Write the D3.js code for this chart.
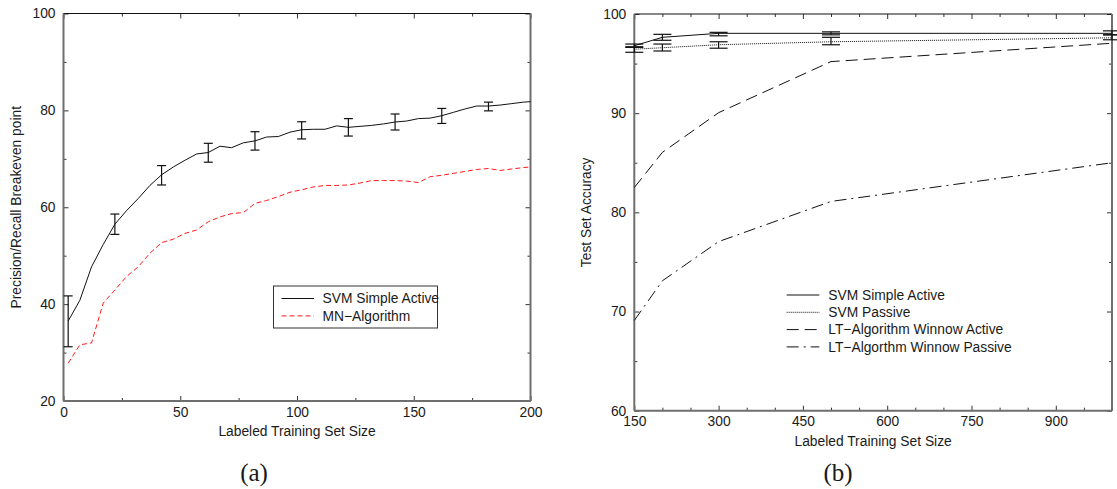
<!DOCTYPE html>
<html>
<head>
<meta charset="utf-8">
<script src="https://cdn.jsdelivr.net/npm/d3@7"></script>
<style>
  html, body { margin: 0; padding: 0; background: #fff; }
  svg { display: block; }
  text { font-family: "Liberation Sans", Arial, sans-serif; fill: #1a1a1a; }
</style>
</head>
<body>
<svg id="chart" width="1117" height="489"></svg>
<script>
// ---------- Panel (a) data ----------
const leftX = [2,7,12,17,22,27,32,37,42,47,52,57,62,67,72,77,82,87,92,97,102,107,112,117,122,127,132,137,142,147,152,157,162,167,172,177,182,187,192,197,200];
const svmSimpleActiveA = [36.5,40.8,47.7,52.3,56.5,59.3,61.8,64.5,66.7,68.3,69.7,71.0,71.3,72.6,72.3,73.3,73.7,74.5,74.6,75.5,76.0,76.1,76.1,76.8,76.5,76.7,76.9,77.2,77.6,77.8,78.3,78.4,78.9,79.6,80.3,80.9,80.9,81.1,81.4,81.7,81.8];
const mnAlgorithm = [27.8,31.6,32.0,40.2,42.9,45.7,47.7,50.5,52.7,53.4,54.6,55.3,57.0,58.0,58.7,58.9,60.8,61.4,62.2,63.1,63.6,64.2,64.5,64.5,64.6,65.0,65.5,65.5,65.5,65.4,65.1,66.3,66.6,67.0,67.4,67.8,68.0,67.6,67.9,68.2,68.3];
const errXA = [2,22,42,62,82,102,122,142,162,182];
const errLoA = [31.2,54.4,64.6,69.3,71.8,74.1,74.7,75.95,77.3,79.9];
const errHiA = [41.7,58.6,68.6,73.2,75.6,77.65,78.3,79.25,80.4,81.7];
const xTicksA = [0,50,100,150,200];
const xMinorA = [25,75,125,175];
const yTicksA = [20,40,60,80,100];
const yMinorA = [30,50,70,90];
const legendA = ["SVM Simple Active", "MN\u2212Algorithm"];

// ---------- Panel (b) data ----------
const rightX = [150,200,300,500,1000];
const svmSimpleActiveB = [96.8,97.65,98.05,98.05,98.05];
const svmPassiveB = [96.45,96.6,96.9,97.2,97.6];
const ltWinnowActive = [82.5,86.05,90.05,95.2,97.05];
const ltWinnowPassive = [69.1,73.1,77.05,81.1,85.0];
const activeErrLoB = [96.63,97.35,97.8,97.9,97.9];
const activeErrHiB = [96.97,97.95,98.15,98.2,98.3];
const passiveErrLoB = [96.14,96.27,96.55,96.9,97.4];
const passiveErrHiB = [96.7,96.97,97.2,97.65,97.9];
const xTicksB = [150,300,450,600,750,900];
const xMinorB = [200,250,350,400,500,550,650,700,800,850,950,1000];
const yTicksB = [60,70,80,90,100];
const yMinorB = [65,75,85,95];
const legendB = ["SVM Simple Active", "SVM Passive", "LT\u2212Algorithm Winnow Active", "LT\u2212Algorthm Winnow Passive"];

const captions = ["(a)", "(b)"];

const svg = d3.select("#chart");
const FS = 13.8;

function panel(cfg) {
  const g = svg.append("g");
  const x = d3.scaleLinear().domain(cfg.xDomain).range([cfg.left, cfg.right]);
  const y = d3.scaleLinear().domain(cfg.yDomain).range([cfg.bottom, cfg.top]);

  function styleAxis(sel) {
    sel.select(".domain").remove();
    sel.selectAll(".tick line").attr("stroke", "#333").attr("stroke-width", 1);
    sel.selectAll(".tick text").style("font-size", FS + "px").attr("fill", "#1a1a1a");
  }
  g.append("g").attr("transform", `translate(0,${cfg.bottom})`)
    .call(d3.axisBottom(x).tickValues(cfg.xTicks).tickSizeInner(-5).tickSizeOuter(0).tickPadding(6).tickFormat(d3.format("d")))
    .call(styleAxis);
  g.append("g").attr("transform", `translate(0,${cfg.bottom})`)
    .call(d3.axisBottom(x).tickValues(cfg.xMinor).tickSizeInner(-3).tickSizeOuter(0).tickFormat(""))
    .call(styleAxis);
  g.append("g").attr("transform", `translate(0,${cfg.top})`)
    .call(d3.axisTop(x).tickValues(cfg.xTicks).tickSizeInner(-5).tickSizeOuter(0).tickFormat(""))
    .call(styleAxis);
  g.append("g").attr("transform", `translate(0,${cfg.top})`)
    .call(d3.axisTop(x).tickValues(cfg.xMinor).tickSizeInner(-3).tickSizeOuter(0).tickFormat(""))
    .call(styleAxis);
  g.append("g").attr("transform", `translate(${cfg.left},0)`)
    .call(d3.axisLeft(y).tickValues(cfg.yTicks).tickSizeInner(-5).tickSizeOuter(0).tickPadding(8).tickFormat(d3.format("d")))
    .call(styleAxis);
  g.append("g").attr("transform", `translate(${cfg.left},0)`)
    .call(d3.axisLeft(y).tickValues(cfg.yMinor).tickSizeInner(-3).tickSizeOuter(0).tickFormat(""))
    .call(styleAxis);
  g.append("g").attr("transform", `translate(${cfg.right},0)`)
    .call(d3.axisRight(y).tickValues(cfg.yTicks).tickSizeInner(-5).tickSizeOuter(0).tickFormat(""))
    .call(styleAxis);
  g.append("g").attr("transform", `translate(${cfg.right},0)`)
    .call(d3.axisRight(y).tickValues(cfg.yMinor).tickSizeInner(-3).tickSizeOuter(0).tickFormat(""))
    .call(styleAxis);

  g.append("line").attr("x1", cfg.left).attr("x2", cfg.right).attr("y1", cfg.top).attr("y2", cfg.top)
    .attr("stroke", "#111").attr("stroke-width", 1.2);
  const gray = "#6e6e6e";
  g.append("line").attr("x1", cfg.left).attr("x2", cfg.left).attr("y1", cfg.top).attr("y2", cfg.bottom)
    .attr("stroke", gray).attr("stroke-width", 2);
  g.append("line").attr("x1", cfg.right).attr("x2", cfg.right).attr("y1", cfg.top).attr("y2", cfg.bottom)
    .attr("stroke", gray).attr("stroke-width", 2);
  g.append("line").attr("x1", cfg.left).attr("x2", cfg.right).attr("y1", cfg.bottom).attr("y2", cfg.bottom)
    .attr("stroke", gray).attr("stroke-width", 2);

  g.append("text").attr("x", (cfg.left + cfg.right) / 2).attr("y", cfg.bottom + 35)
    .attr("text-anchor", "middle").style("font-size", FS + "px").text("Labeled Training Set Size");
  g.append("text").attr("transform", `translate(${cfg.yTitleX},${(cfg.top + cfg.bottom) / 2}) rotate(-90)`)
    .attr("text-anchor", "middle").attr("dy", "0.35em").style("font-size", FS + "px").text(cfg.yTitle);

  return {g, x, y};
}

function drawLine(p, xs, ys, stroke, dash, width) {
  const line = d3.line().x((d, i) => p.x(xs[i])).y(d => p.y(d));
  p.g.append("path").datum(ys).attr("d", line).attr("fill", "none")
    .attr("stroke", stroke).attr("stroke-width", width || 1)
    .attr("stroke-dasharray", dash || null);
}

function drawErr(p, xs, lo, hi, cap) {
  xs.forEach((xv, i) => {
    const cx = p.x(xv);
    const g = p.g.append("g").attr("stroke", "#111").attr("stroke-width", 1.2);
    g.append("line").attr("x1", cx).attr("x2", cx).attr("y1", p.y(lo[i])).attr("y2", p.y(hi[i]));
    g.append("line").attr("x1", cx - cap).attr("x2", cx + cap).attr("y1", p.y(lo[i])).attr("y2", p.y(lo[i]));
    g.append("line").attr("x1", cx - cap).attr("x2", cx + cap).attr("y1", p.y(hi[i])).attr("y2", p.y(hi[i]));
  });
}

// ---------- Panel (a) ----------
const pa = panel({
  xDomain: [0, 200], yDomain: [20, 100],
  left: 63.5, right: 530.5, top: 13.5, bottom: 401,
  xTicks: xTicksA, xMinor: xMinorA, yTicks: yTicksA, yMinor: yMinorA,
  yTitle: "Precision/Recall Breakeven point", yTitleX: 16
});
drawLine(pa, leftX, mnAlgorithm, "#ff1a1a", "5,3", 1);
drawLine(pa, leftX, svmSimpleActiveA, "#111", null, 1);
drawErr(pa, errXA, errLoA, errHiA, 4.5);

const la = pa.g.append("g");
la.append("rect").attr("x", 273.5).attr("y", 286).attr("width", 164).attr("height", 42)
  .attr("fill", "#fff").attr("stroke", "#333").attr("stroke-width", 1);
const aStyles = [{c: "#111", d: null}, {c: "#ff1a1a", d: "5,3"}];
legendA.forEach((name, i) => {
  const yy = 298.5 + i * 17.4;
  la.append("line").attr("x1", 281.5).attr("x2", 314).attr("y1", yy).attr("y2", yy)
    .attr("stroke", aStyles[i].c).attr("stroke-width", 1).attr("stroke-dasharray", aStyles[i].d);
  la.append("text").attr("x", 322.5).attr("y", yy).attr("dy", "0.35em")
    .style("font-size", FS + "px").text(name);
});

// ---------- Panel (b) ----------
const pb = panel({
  xDomain: [150, 1000], yDomain: [60, 100],
  left: 634.3, right: 1112, top: 14, bottom: 410.7,
  xTicks: xTicksB, xMinor: xMinorB, yTicks: yTicksB, yMinor: yMinorB,
  yTitle: "Test Set Accuracy", yTitleX: 586
});
const bStyles = [
  {c: "#111", d: null, w: 1},
  {c: "#111", d: "1,1", w: 1},
  {c: "#111", d: "12,6", w: 1},
  {c: "#111", d: "12,5,2,5", w: 1}
];
const bSeries = [svmSimpleActiveB, svmPassiveB, ltWinnowActive, ltWinnowPassive];
bSeries.forEach((s, i) => drawLine(pb, rightX, s, bStyles[i].c, bStyles[i].d, bStyles[i].w));
drawErr(pb, rightX, activeErrLoB, activeErrHiB, 9);
drawErr(pb, rightX, passiveErrLoB, passiveErrHiB, 9);

const lb = pb.g.append("g");
legendB.forEach((name, i) => {
  const yy = 295 + i * 17.3;
  lb.append("line").attr("x1", 786.7).attr("x2", 819.3).attr("y1", yy).attr("y2", yy)
    .attr("stroke", bStyles[i].c).attr("stroke-width", 1).attr("stroke-dasharray", bStyles[i].d);
  lb.append("text").attr("x", 828.3).attr("y", yy).attr("dy", "0.35em")
    .style("font-size", FS + "px").text(name);
});

const capX = [254, 838];
captions.forEach((c, i) => {
  svg.append("text").attr("x", capX[i]).attr("y", 481).attr("text-anchor", "middle")
    .style("font-family", "'Liberation Serif', 'DejaVu Serif', serif")
    .style("font-size", "25px").text(c);
});
</script>
</body>
</html>
